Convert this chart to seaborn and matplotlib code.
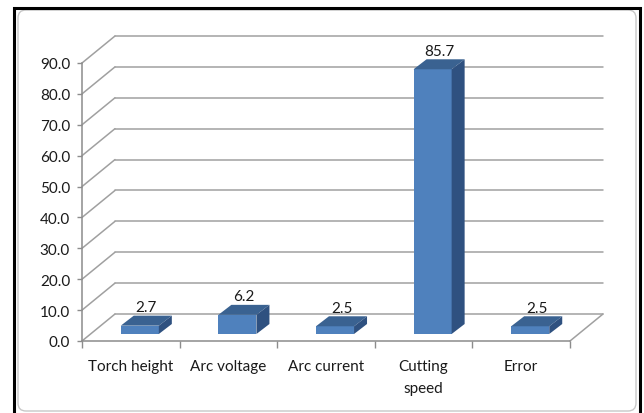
import numpy as np
import pandas as pd
import matplotlib.pyplot as plt
import seaborn as sns
from matplotlib.patches import Polygon, Rectangle, FancyBboxPatch
from matplotlib.transforms import IdentityTransform

# chart data
categories = ['Torch height', 'Arc voltage', 'Arc current', 'Cutting\nspeed', 'Error']
values = [2.7, 6.2, 2.5, 85.7, 2.5]
y_ticks = [0, 10, 20, 30, 40, 50, 60, 70, 80, 90]

sns.set_style('white')
plt.rcParams['font.family'] = ['Lato', 'DejaVu Sans']

W, H = 644, 414
fig = plt.figure(figsize=(W / 100, H / 100), dpi=100)
# front plane of the pseudo-3d box, in pixels
left, right, bottom, top = 82, 570, 342, 64
ax = fig.add_axes([left / W, 1 - bottom / H, (right - left) / W, (bottom - top) / H])

df = pd.DataFrame({'factor': categories, 'percent': values})
sns.barplot(data=df, x='factor', y='percent', color='#4F81BD', saturation=1,
            width=0.39, ax=ax)
ax.set_xlim(-0.5, len(categories) - 0.5)
ax.set_ylim(y_ticks[0], y_ticks[-1])

# pixel -> data unit scale
sx = len(categories) / (right - left)
sy = (y_ticks[-1] - y_ticks[0]) / (bottom - top)
wall_dx, wall_dy = 33 * sx, 27 * sy   # depth of the box
off_x, off_y = 9 * sx, 7 * sy         # bars sit a bit inside the box
bar_dx, bar_dy = 13 * sx, 10 * sy     # depth of each bar

grid_kw = dict(color='#A0A0A0', lw=1.1, clip_on=False, zorder=1)
x0, x1 = -0.5, len(categories) - 0.5
for v in y_ticks:
    ax.plot([x0 + wall_dx, x1 + wall_dx], [v + wall_dy, v + wall_dy], **grid_kw)
    ax.plot([x0, x0 + wall_dx], [v, v + wall_dy], **grid_kw)
ax.plot([x1, x1 + wall_dx], [0, wall_dy], **grid_kw)

# turn flat bars into boxes
for p, v in zip(ax.patches, values):
    p.set_x(p.get_x() + off_x)
    p.set_y(off_y)
    p.set_zorder(3)
    p.set_edgecolor('none')
    bx0 = p.get_x()
    bx1 = bx0 + p.get_width()
    yb, yt = off_y, off_y + p.get_height()
    ax.add_patch(Polygon([(bx0, yt), (bx1, yt), (bx1 + bar_dx, yt + bar_dy), (bx0 + bar_dx, yt + bar_dy)],
                         closed=True, fc='#3A6291', ec='none', zorder=3, clip_on=False))
    ax.add_patch(Polygon([(bx1, yb), (bx1 + bar_dx, yb + bar_dy), (bx1 + bar_dx, yt + bar_dy), (bx1, yt)],
                         closed=True, fc='#2F5180', ec='none', zorder=3, clip_on=False))
    ax.annotate(f'{v:.1f}', ((bx0 + bx1) / 2 + bar_dx / 2, yt + bar_dy), xytext=(0, 1),
                textcoords='offset points', ha='center', va='bottom', fontsize=11,
                color='#1A1A1A', annotation_clip=False, zorder=4)

# axes styling
for s in ['top', 'right']:
    ax.spines[s].set_visible(False)
for s in ['left', 'bottom']:
    ax.spines[s].set_color('#8C8C8C')
    ax.spines[s].set_linewidth(1.1)
ax.set_xlabel('')
ax.set_ylabel('')
ax.set_yticks(y_ticks)
ax.set_yticklabels([f'{v:.1f}' for v in y_ticks])
ax.set_xticks(np.arange(len(categories) + 1) - 0.5)
ax.set_xticklabels([])
ax.set_xticks(np.arange(len(categories)), minor=True)
ax.set_xticklabels(categories, minor=True, linespacing=1.7)
ax.tick_params(axis='y', left=True, length=3.6, width=1, color='#8C8C8C', pad=5,
               labelsize=11, labelcolor='#1A1A1A')
ax.tick_params(axis='x', which='major', bottom=True, length=5, width=1, color='#8C8C8C')
ax.tick_params(axis='x', which='minor', bottom=True, length=0, pad=13, labelsize=11,
               labelcolor='#1A1A1A')
ax.patch.set_alpha(0)

# chart frame
fig.add_artist(FancyBboxPatch((18, 2), 618, 401, boxstyle='round,pad=0,rounding_size=8',
                              transform=IdentityTransform(), fill=False, ec='#C8C8C8', lw=1))
fig.add_artist(Rectangle((14, -10), 626, H - 9 + 10, transform=IdentityTransform(),
                         fill=False, ec='black', lw=2.2))

plt.savefig('out.png', dpi=100)
